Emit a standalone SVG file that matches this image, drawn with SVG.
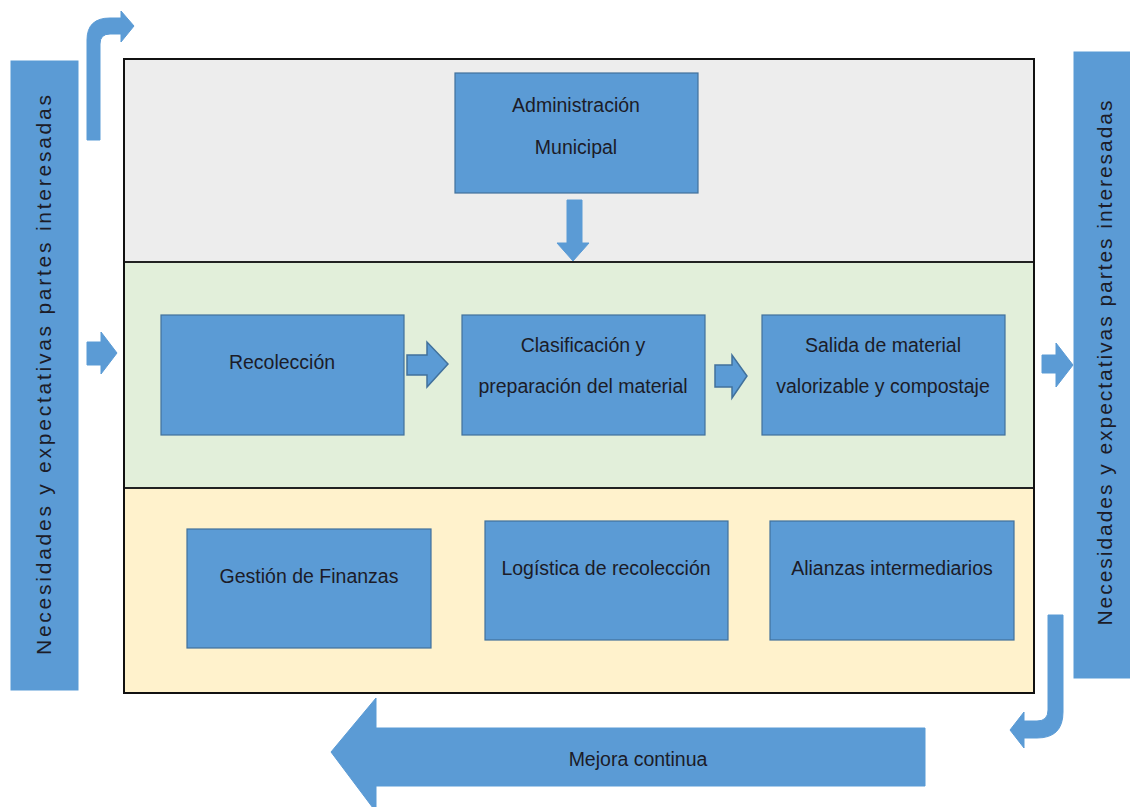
<svg xmlns="http://www.w3.org/2000/svg" width="1130" height="807" viewBox="0 0 1130 807">
  <style>
    .box { fill: #5b9bd5; stroke: #41719c; stroke-width: 1.2; }
    .bar { fill: #5b9bd5; stroke: #5b9bd5; stroke-width: 1; }
    .arrow { fill: #5b9bd5; stroke: #5b9bd5; stroke-width: 1; }
    .arrow-o { fill: #5b9bd5; stroke: #41719c; stroke-width: 1.5; }
    .lbl { font-family: "Liberation Sans", Arial, sans-serif; font-size: 19.5px; fill: #1c1c28; text-anchor: middle; }
    .side { font-family: "Liberation Sans", Arial, sans-serif; font-size: 21px; fill: #1c1c28; text-anchor: middle; }
    .band { stroke: none; }
  </style>

  <rect width="1130" height="807" fill="#ffffff"/>

  <!-- three horizontal bands inside the frame -->
  <g id="bands">
    <rect class="band" x="124" y="59" width="910" height="203" fill="#ededed"/>
    <rect class="band" x="124" y="262" width="910" height="226" fill="#e2efda"/>
    <rect class="band" x="124" y="488" width="910" height="205" fill="#fff2cc"/>
    <line x1="124" y1="262" x2="1034" y2="262" stroke="#222" stroke-width="2"/>
    <line x1="124" y1="488" x2="1034" y2="488" stroke="#222" stroke-width="2"/>
    <rect x="124" y="59" width="910" height="634" fill="none" stroke="#111" stroke-width="2"/>
  </g>

  <!-- side bars -->
  <g id="left-bar">
    <rect class="bar" x="11" y="61" width="67" height="629"/>
    <text class="side" transform="translate(51 375) rotate(-90)" textLength="560" lengthAdjust="spacing">Necesidades y expectativas partes interesadas</text>
  </g>
  <g id="right-bar">
    <rect class="bar" x="1074" y="52" width="60" height="626"/>
    <text class="side" transform="translate(1112 363) rotate(-90)" textLength="525" lengthAdjust="spacing">Necesidades y expectativas partes interesadas</text>
  </g>

  <!-- nodes -->
  <g id="admin">
    <rect class="box" x="455" y="73" width="243" height="120"/>
    <text class="lbl" x="576" y="112">Administración</text>
    <text class="lbl" x="576" y="154">Municipal</text>
  </g>
  <g id="recoleccion">
    <rect class="box" x="161" y="315" width="243" height="120"/>
    <text class="lbl" x="282" y="369">Recolección</text>
  </g>
  <g id="clasificacion">
    <rect class="box" x="462" y="315" width="243" height="120"/>
    <text class="lbl" x="583" y="352">Clasificación y</text>
    <text class="lbl" x="583" y="393">preparación del material</text>
  </g>
  <g id="salida">
    <rect class="box" x="762" y="315" width="243" height="120"/>
    <text class="lbl" x="883" y="352">Salida de material</text>
    <text class="lbl" x="883" y="393">valorizable y compostaje</text>
  </g>
  <g id="finanzas">
    <rect class="box" x="187" y="529" width="244" height="119"/>
    <text class="lbl" x="309" y="583">Gestión de Finanzas</text>
  </g>
  <g id="logistica">
    <rect class="box" x="485" y="521" width="243" height="119"/>
    <text class="lbl" x="606" y="575">Logística de recolección</text>
  </g>
  <g id="alianzas">
    <rect class="box" x="770" y="521" width="244" height="119"/>
    <text class="lbl" x="892" y="575">Alianzas intermediarios</text>
  </g>

  <!-- connectors -->
  <g id="connectors">
    <!-- bent arrow rising from the left bar -->
    <path class="arrow" d="M87,140 L87,40 Q87,18 110,18 L121,18 L121,11 L134,26 L121,42 L121,34 L110,34 Q100,34 100,44 L100,140 Z"/>
    <!-- input arrow into the process band -->
    <path class="arrow" d="M87,342 L101,342 L101,332 L117,353 L101,374 L101,365 L87,365 Z"/>
    <!-- admin down to processes -->
    <path class="arrow" d="M567,200 L582,200 L582,243 L589,243 L573,261 L557,243 L567,243 Z"/>
    <!-- process flow arrows -->
    <path class="arrow-o" d="M407,355 L427,355 L427,342 L448,364 L427,387 L427,375 L407,375 Z"/>
    <path class="arrow-o" d="M715,365 L732,365 L732,355 L747,376 L732,398 L732,387 L715,387 Z"/>
    <!-- output arrow to the right bar -->
    <path class="arrow" d="M1042,355 L1056,355 L1056,343 L1073,365 L1056,387 L1056,373 L1042,373 Z"/>
    <!-- hook arrow descending from the right -->
    <path class="arrow" d="M1048,615 L1063,615 L1063,712 Q1063,738 1037,738 L1024,738 L1024,748 L1010,730 L1024,712 L1024,721 L1037,721 Q1048,721 1048,710 Z"/>
  </g>

  <!-- continuous improvement arrow -->
  <g id="mejora">
    <path class="arrow" d="M925,728 L925,786 L376,786 L376,812 L331,752 L376,698 L376,728 Z"/>
    <text class="lbl" x="638" y="766">Mejora continua</text>
  </g>
</svg>
